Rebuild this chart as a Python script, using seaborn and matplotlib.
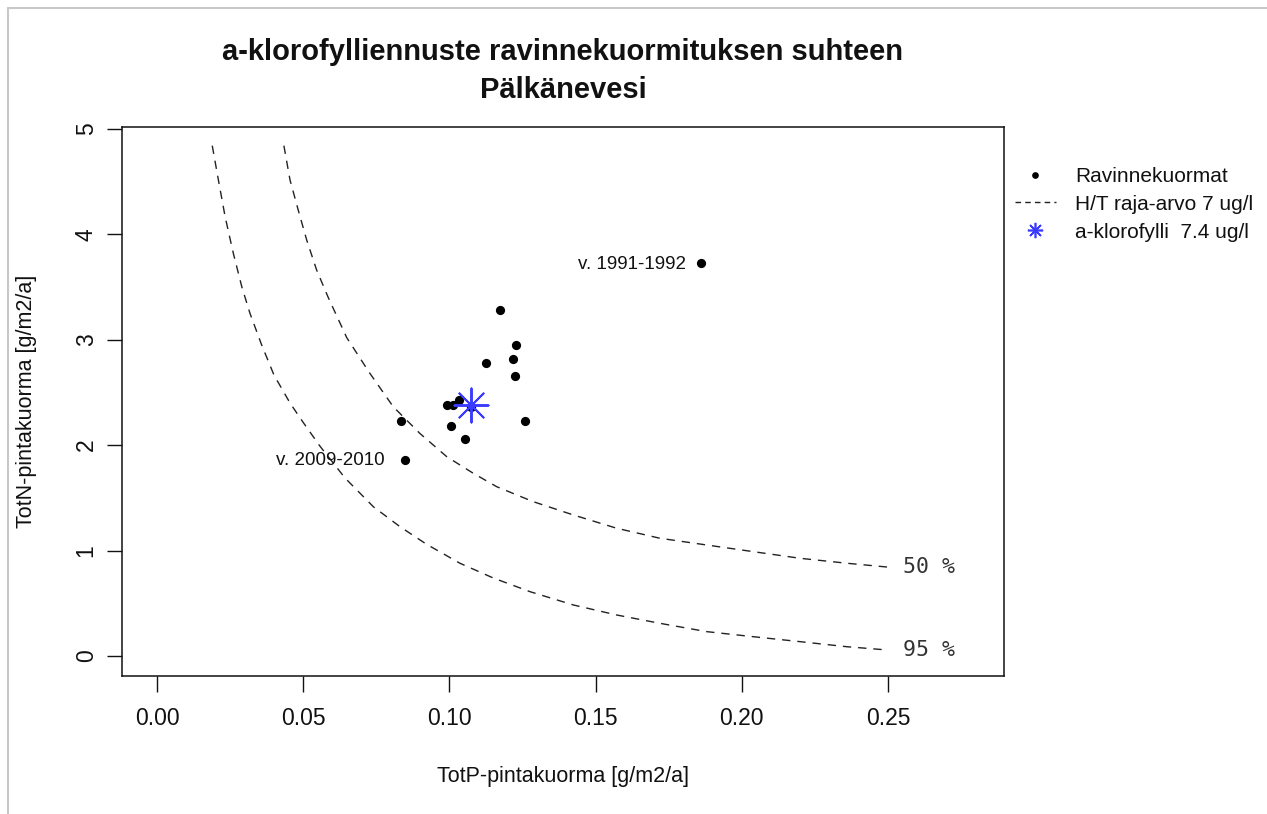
import numpy as np
import pandas as pd
import matplotlib
matplotlib.use("Agg")
import matplotlib.pyplot as plt
from matplotlib.lines import Line2D
import seaborn as sns

# ---------------- data ----------------
title_lines = ["a-klorofylliennuste ravinnekuormituksen suhteen", "Pälkänevesi"]
x_label = "TotP-pintakuorma [g/m2/a]"
y_label = "TotN-pintakuorma [g/m2/a]"
x_ticks = [0.00, 0.05, 0.10, 0.15, 0.20, 0.25]
y_ticks = [0, 1, 2, 3, 4, 5]

# nutrient loads (TotP, TotN)
totp = [0.0833, 0.0847, 0.0992, 0.1012, 0.1034, 0.1074, 0.1007, 0.1055,
        0.1126, 0.1172, 0.1229, 0.1219, 0.1223, 0.1260, 0.1861]
totn = [2.227, 1.857, 2.384, 2.384, 2.429, 2.365, 2.185, 2.056,
        2.783, 3.283, 2.954, 2.815, 2.657, 2.227, 3.726]

# chlorophyll-a marker
chl_p = [0.1074]
chl_n = [2.384]

# 50 % curve
c50_x = [0.0434, 0.0455, 0.0483, 0.0512, 0.0546, 0.0585, 0.0649, 0.0728, 0.0808,
         0.0899, 0.0991, 0.1082, 0.1162, 0.1287, 0.1424, 0.1572, 0.1720, 0.1880,
         0.2039, 0.2199, 0.2359, 0.2497]
c50_y = [4.842, 4.516, 4.231, 3.947, 3.662, 3.406, 3.020, 2.682, 2.365,
         2.112, 1.891, 1.733, 1.606, 1.464, 1.338, 1.212, 1.117, 1.053,
         0.990, 0.927, 0.880, 0.844]

# 95 % curve
c95_x = [0.0189, 0.0210, 0.0233, 0.0261, 0.0290, 0.0318, 0.0358, 0.0400, 0.0455,
         0.0499, 0.0557, 0.0643, 0.0740, 0.0831, 0.0922, 0.1036, 0.1150, 0.1276,
         0.1424, 0.1572, 0.1720, 0.1880, 0.2039, 0.2199, 0.2359, 0.2497]
c95_y = [4.842, 4.516, 4.168, 3.821, 3.504, 3.251, 2.951, 2.666, 2.400,
         2.220, 1.992, 1.689, 1.416, 1.227, 1.060, 0.880, 0.740, 0.610,
         0.484, 0.389, 0.310, 0.231, 0.183, 0.136, 0.088, 0.057]

curve_labels = ["50 %", "95 %"]
year_labels = ["v. 1991-1992", "v. 2009-2010"]
year_label_pos = [(0.1809, 3.71), (0.0780, 1.857)]
legend_labels = ["Ravinnekuormat", "H/T raja-arvo 7 ug/l", "a-klorofylli  7.4 ug/l"]

# ---------------- style ----------------
sns.set_theme(style="ticks")
plt.rcParams["font.family"] = ["Liberation Sans", "DejaVu Sans"]
plt.rcParams["text.color"] = "#111111"
plt.rcParams["axes.labelcolor"] = "#111111"
plt.rcParams["xtick.color"] = "#111111"
plt.rcParams["ytick.color"] = "#111111"

W, H = 1267, 814
fig = plt.figure(figsize=(W / 100, H / 100), dpi=100)
fig.patch.set_facecolor("white")
L, R, T, B = 122, 1004, 127, 676
ax = fig.add_axes([L / W, 1 - B / H, (R - L) / W, (B - T) / H])

df_pts = pd.DataFrame({"TotP": totp, "TotN": totn})
df50 = pd.DataFrame({"x": c50_x, "y": c50_y})
df95 = pd.DataFrame({"x": c95_x, "y": c95_y})

dash = (0, (6, 5))
sns.lineplot(data=df50, x="x", y="y", sort=False, estimator=None, ax=ax,
             color="#222222", lw=1.0, linestyle=dash)
sns.lineplot(data=df95, x="x", y="y", sort=False, estimator=None, ax=ax,
             color="#222222", lw=1.0, linestyle=dash)
sns.scatterplot(data=df_pts, x="TotP", y="TotN", ax=ax, color="black",
                s=44, linewidth=0, zorder=3)
sns.scatterplot(x=chl_p, y=chl_n, ax=ax, marker=(8, 2, 0), color="#3b3bff",
                s=600, linewidth=1.4, zorder=4)

for lab, ys in zip(curve_labels, [c50_y, c95_y]):
    ax.text(0.2551, ys[-1], lab, ha="left", va="center",
            fontsize=15.5, family="DejaVu Sans Mono", color="#333333")

for lab, (px, py) in zip(year_labels, year_label_pos):
    ax.text(px, py, lab, ha="right", va="center", fontsize=13.5, color="#111111")

ax.set_xlim(-0.01197, 0.2897)
ax.set_ylim(-0.19, 5.019)
ax.set_xticks(x_ticks)
ax.set_xticklabels([f"{v:.2f}" for v in x_ticks])
ax.set_yticks(y_ticks)
ax.set_yticklabels([str(v) for v in y_ticks], rotation=90, va="center")
ax.tick_params(axis="x", length=11.5, width=1.0, labelsize=16.5, pad=11, direction="out")
ax.tick_params(axis="y", length=10.5, width=1.0, labelsize=16.5, pad=7, direction="out")

for s in ax.spines.values():
    s.set_color("#111111")
    s.set_linewidth(1.1)

ax.set_xlabel(x_label, fontsize=15.5)
ax.set_ylabel(y_label, fontsize=15.5)
ax.xaxis.set_label_coords(0.5, (B - 766) / (B - T))
ax.yaxis.set_label_coords((37 - L) / (R - L), 0.5)

ax.set_title("\n".join(title_lines), fontsize=21, fontweight="bold",
             linespacing=1.45, pad=21)

handles = [
    Line2D([], [], color="black", marker="o", markersize=3.8, linestyle="none"),
    Line2D([], [], color="#222222", lw=1.0, linestyle=(0, (4, 3))),
    Line2D([], [], color="#3b3bff", marker=(8, 2, 0), markersize=11,
           markeredgewidth=1.2, linestyle="none"),
]
ax.legend(handles, legend_labels, loc="upper left",
          bbox_to_anchor=((1015 - L) / (R - L), (B - 167) / (B - T)),
          bbox_transform=ax.transAxes, frameon=False, fontsize=15,
          handlelength=1.95, handletextpad=0.95, labelspacing=0.42,
          borderpad=0, borderaxespad=0)

# screenshot frame lines
fig.add_artist(Line2D([8 / W, 1], [1 - 8 / H, 1 - 8 / H], color="#c8c8c8", lw=1.5))
fig.add_artist(Line2D([8 / W, 8 / W], [0, 1 - 8 / H], color="#c8c8c8", lw=1.5))

fig.savefig("out.png", dpi=100, facecolor="white")
